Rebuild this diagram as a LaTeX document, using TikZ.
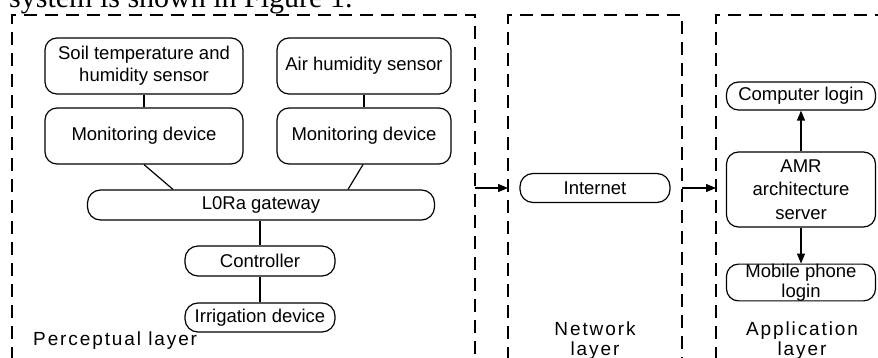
\documentclass[tikz,border=0pt]{standalone}
\usepackage{fontspec}
\setmainfont{Liberation Sans}
\newfontfamily\serifface{Liberation Serif}
\newfontfamily\spacedface[LetterSpace=10]{Liberation Sans}
\usetikzlibrary{arrows.meta}
\begin{document}
\begin{tikzpicture}[x=1pt,y=-1pt,
  box/.style={draw, line width=1.2pt, rounded corners=12pt, align=center, inner sep=0pt,
              font=\fontsize{18.5}{22}\selectfont},
  pill/.style={box, rounded corners=13pt, minimum height=30pt},
  layerbox/.style={draw, line width=1.2pt, dash pattern=on 13pt off 8pt},
  link/.style={line width=1.2pt},
  arr/.style={line width=1.2pt, -{Triangle[length=10pt,width=8pt]}},
  layerlabel/.style={font=\spacedface\fontsize{19}{20}\selectfont, align=center, inner sep=0pt}
]
\useasboundingbox (0,0) rectangle (878,358);

% caption fragment at the top
\node[font=\serifface\fontsize{30}{30}\selectfont, anchor=base west, inner sep=0pt] (caption) at (9,7.5) {system is shown in Figure 1.};

% layer frames (open at the bottom)
\coordinate (pBL) at (12,360);  \coordinate (pTL) at (12,15);
\coordinate (pTR) at (475,15);  \coordinate (pBR) at (475,360);
\coordinate (nBL) at (508,360); \coordinate (nTL) at (508,15);
\coordinate (nTR) at (682,15);  \coordinate (nBR) at (682,360);
\coordinate (aBL) at (716,360); \coordinate (aTL) at (716,15);
\coordinate (aTR) at (892,15);
\draw[layerbox] (pBL) -- (pTL) -- (pTR) -- (pBR);
\draw[layerbox] (nBL) -- (nTL) -- (nTR) -- (nBR);
\draw[layerbox] (aBL) -- (aTL) -- (aTR);

% perceptual layer
\node[box, minimum width=198pt, minimum height=56pt] (soil) at (144,66) {Soil temperature and\\humidity sensor};
\node[box, minimum width=198pt, minimum height=56pt] (mon1) at (144,136) {Monitoring device};
\node[box, minimum width=174pt, minimum height=56pt] (air) at (364,66) {Air humidity sensor};
\node[box, minimum width=174pt, minimum height=56pt] (mon2) at (364,136) {Monitoring device};
\node[pill, minimum width=347pt] (gw) at (261,205) {L0Ra gateway};
\node[pill, minimum width=150pt] (ctrl) at (260,261) {Controller};
\node[pill, minimum width=150pt, minimum height=29pt] (irr) at (260,317.5) {Irrigation device};
\node[layerlabel, anchor=base west] (plabel) at (33,345) {Perceptual layer};

\draw[link] (soil) -- (mon1);
\draw[link] (air) -- (mon2);
\draw[link] (mon1.south) -- ([xshift=-88pt]gw.north);
\draw[link] ([xshift=-1pt]mon2.south) -- ([xshift=87pt]gw.north);
\draw[link] (ctrl.north |- gw.south) -- (ctrl.north);
\draw[link] (ctrl) -- (irr);

% network layer
\node[pill, minimum width=150pt, minimum height=29pt] (inet) at (595,188) {Internet};
\node[layerlabel, anchor=base] (nlabel) at (595,355) {Network\\layer};

% application layer
\node[pill, minimum width=149pt, minimum height=28pt, rounded corners=12pt] (pc) at (801,96) {Computer login};
\node[box, minimum width=149pt, minimum height=75pt, font=\fontsize{18.5}{23.5}\selectfont] (amr) at (801,189.5) {AMR\\architecture\\server};
\node[box, minimum width=149pt, minimum height=35pt, font=\fontsize{18.5}{19.5}\selectfont] (mob) at (801,282.5) {Mobile phone\\login};
\node[layerlabel, anchor=base] (alabel) at (802,355) {Application\\layer};

\draw[arr] (amr) -- (pc);
\draw[arr] (amr) -- (mob);

% inter-layer arrows
\coordinate (pOut) at (475,188);
\coordinate (nIn) at (508,188);
\coordinate (nOut) at (682,188);
\coordinate (aIn) at (716,188);
\draw[arr] (pOut) -- (nIn);
\draw[arr] (nOut) -- (aIn);
\end{tikzpicture}
\end{document}
